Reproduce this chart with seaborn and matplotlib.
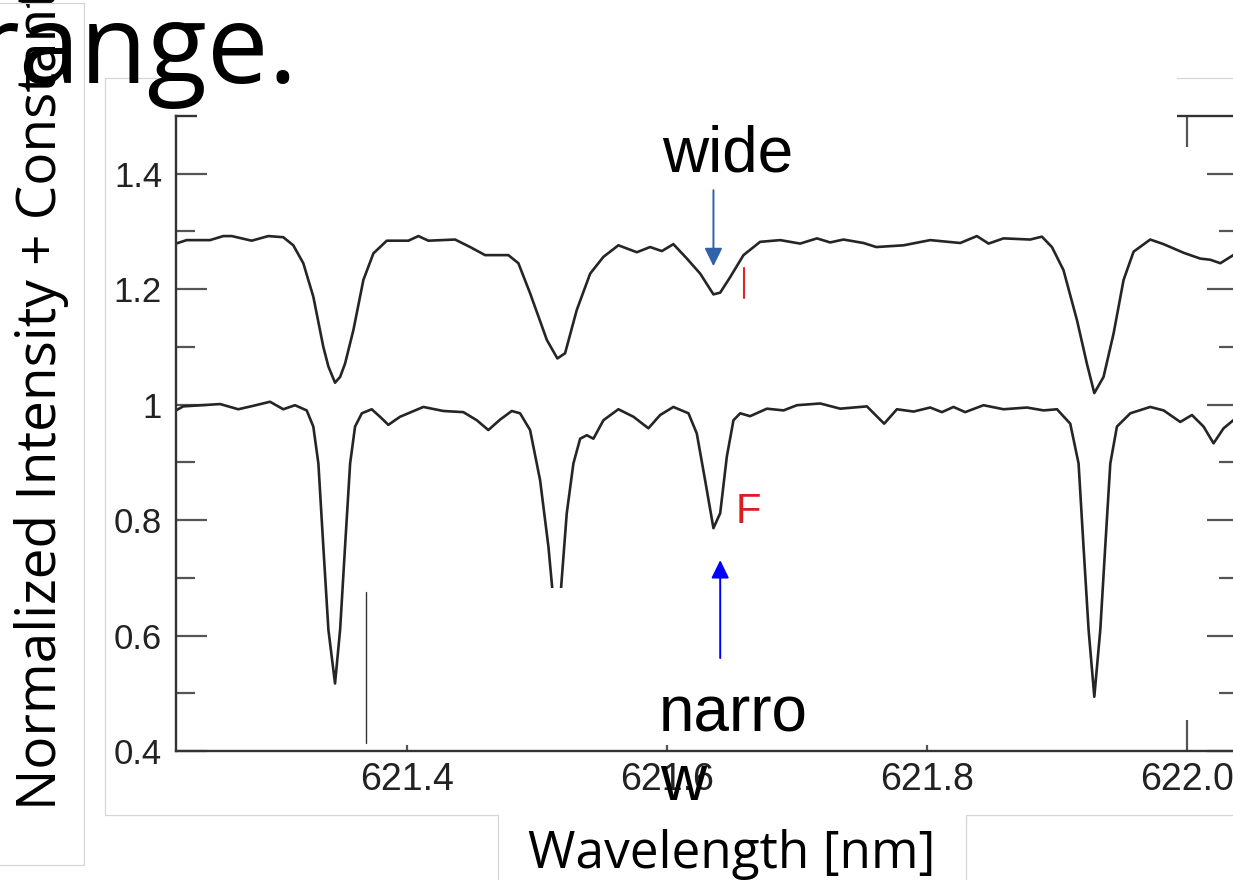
import matplotlib
matplotlib.use("Agg")
import matplotlib.pyplot as plt
import pandas as pd
import seaborn as sns
from matplotlib.lines import Line2D
from matplotlib.patches import Rectangle
from matplotlib.ticker import FixedLocator, FuncFormatter, NullLocator

# Upper spectrum: broadened lines, shifted up by a constant
wl_wide = [621.2223, 621.2305, 621.2485, 621.2587, 621.2652, 621.2805, 621.2933, 621.3048,
           621.3125, 621.3202, 621.3279, 621.3356, 621.3395, 621.3446, 621.3485, 621.3523,
           621.3587, 621.3664, 621.3741, 621.3844, 621.4010, 621.4087, 621.4164, 621.4369,
           621.4485, 621.4600, 621.4779, 621.4856, 621.4946, 621.5075, 621.5156, 621.5215,
           621.5305, 621.5408, 621.5510, 621.5625, 621.5767, 621.5869, 621.5959, 621.6048,
           621.6152, 621.6254, 621.6356, 621.6408, 621.6485, 621.6587, 621.6715, 621.6869,
           621.7023, 621.7152, 621.7254, 621.7356, 621.7510, 621.7608, 621.7818, 621.8023,
           621.8254, 621.8382, 621.8472, 621.8587, 621.8792, 621.8882, 621.8959, 621.9048,
           621.9152, 621.9228, 621.9285, 621.9356, 621.9433, 621.9510, 621.9587, 621.9715,
           621.9818, 621.9972, 622.0100, 622.0177, 622.0254, 622.0354, 622.0392]
flux_wide = [1.279, 1.285, 1.285, 1.292, 1.292, 1.284, 1.292, 1.290,
             1.276, 1.245, 1.187, 1.100, 1.066, 1.038, 1.048, 1.071,
             1.129, 1.216, 1.262, 1.284, 1.284, 1.292, 1.284, 1.286,
             1.273, 1.259, 1.259, 1.245, 1.193, 1.112, 1.080, 1.089,
             1.164, 1.227, 1.256, 1.276, 1.264, 1.273, 1.266, 1.278,
             1.253, 1.227, 1.191, 1.194, 1.221, 1.259, 1.282, 1.285,
             1.279, 1.288, 1.281, 1.286, 1.280, 1.273, 1.276, 1.285,
             1.280, 1.292, 1.279, 1.288, 1.286, 1.291, 1.273, 1.233,
             1.146, 1.071, 1.020, 1.048, 1.123, 1.216, 1.265, 1.286,
             1.278, 1.263, 1.253, 1.251, 1.245, 1.259, 1.264]

# Lower spectrum: narrow lines
wl_narrow = [621.2215, 621.2279, 621.2562, 621.2702, 621.2818, 621.2946, 621.3048, 621.3138,
             621.3228, 621.3279, 621.3318, 621.3356, 621.3395, 621.3446, 621.3485, 621.3523,
             621.3562, 621.3600, 621.3652, 621.3728, 621.3792, 621.3856, 621.3946, 621.4125,
             621.4279, 621.4433, 621.4536, 621.4625, 621.4715, 621.4805, 621.4869, 621.4946,
             621.5023, 621.5087, 621.5125, 621.5150, 621.5177, 621.5228, 621.5279, 621.5331,
             621.5382, 621.5433, 621.5510, 621.5625, 621.5741, 621.5856, 621.5946, 621.6048,
             621.6164, 621.6228, 621.6292, 621.6356, 621.6408, 621.6459, 621.6510, 621.6562,
             621.6638, 621.6767, 621.6895, 621.6998, 621.7177, 621.7331, 621.7536, 621.7669,
             621.7767, 621.7895, 621.8023, 621.8113, 621.8202, 621.8292, 621.8433, 621.8587,
             621.8767, 621.8895, 621.8998, 621.9100, 621.9164, 621.9202, 621.9241, 621.9285,
             621.9331, 621.9369, 621.9408, 621.9459, 621.9562, 621.9715, 621.9818, 621.9946,
             622.0036, 622.0125, 622.0202, 622.0279, 622.0354, 622.0392]
flux_narrow = [0.989, 0.997, 1.001, 0.992, 0.998, 1.005, 0.992, 0.999, 0.990, 0.962, 0.898,
               0.754, 0.610, 0.517, 0.610, 0.754, 0.898, 0.962, 0.985, 0.992, 0.979, 0.965,
               0.979, 0.996, 0.989, 0.987, 0.973, 0.956, 0.974, 0.989, 0.985, 0.956, 0.869,
               0.754, 0.661, 0.600, 0.661, 0.812, 0.898, 0.941, 0.947, 0.941, 0.973, 0.992,
               0.979, 0.959, 0.982, 0.996, 0.985, 0.950, 0.869, 0.786, 0.812, 0.910, 0.973,
               0.985, 0.980, 0.993, 0.990, 0.999, 1.002, 0.993, 0.997, 0.967, 0.992, 0.988,
               0.995, 0.987, 0.996, 0.987, 0.999, 0.992, 0.995, 0.990, 0.992, 0.967, 0.898,
               0.754, 0.610, 0.494, 0.610, 0.754, 0.898, 0.962, 0.985, 0.996, 0.990, 0.970,
               0.982, 0.962, 0.933, 0.959, 0.973, 0.980]

x_ticks = [621.4, 621.6, 621.8, 622.0]
y_ticks = [0.4, 0.6, 0.8, 1.0, 1.2, 1.4]
y_minor_ticks = [0.5, 0.7, 0.9, 1.1, 1.3]
x_range = (621.2223, 622.039)
y_range = (0.4, 1.5)

# annotated line centres (wavelength) and arrow spans (intensity)
wide_line = (621.6356, 1.3714, 1.2398)
narrow_line = (621.6408, 0.561, 0.7307)

W, H = 1233, 880

sns.set_theme(style="ticks")
plt.rcParams["font.family"] = ["Liberation Sans", "DejaVu Sans"]

fig = plt.figure(figsize=(W / 100, H / 100), dpi=100, facecolor="white")


def fx(px):
    return px / W


def fy(py):
    return 1 - py / H


ax = fig.add_axes([fx(176), fy(751), (1238 - 176) / W, (751 - 116) / H])
ax.set_facecolor("white")

spectra = pd.concat([
    pd.DataFrame({"wavelength": wl_wide, "intensity": flux_wide, "profile": "wide"}),
    pd.DataFrame({"wavelength": wl_narrow, "intensity": flux_narrow, "profile": "narrow"}),
], ignore_index=True)

sns.lineplot(data=spectra, x="wavelength", y="intensity", units="profile",
             estimator=None, sort=False, color="#252525", lw=1.9, legend=False, ax=ax,
             solid_joinstyle="round")

ax.set_xlim(*x_range)
ax.set_ylim(*y_range)
ax.xaxis.set_major_locator(FixedLocator(x_ticks))
ax.xaxis.set_minor_locator(NullLocator())
ax.yaxis.set_major_locator(FixedLocator(y_ticks))
ax.yaxis.set_minor_locator(FixedLocator(y_minor_ticks))
ax.xaxis.set_major_formatter(FuncFormatter(lambda v, _: f"{v:.1f}"))
ax.yaxis.set_major_formatter(FuncFormatter(lambda v, _: f"{v:g}"))

for s in ax.spines.values():
    s.set_color("#333333")
    s.set_linewidth(1.7)
    s.set_visible(True)

ax.tick_params(which="both", direction="in", top=True, right=True,
               color="#555555", width=1.6, labelcolor="#222222")
ax.tick_params(which="major", length=22)
ax.tick_params(axis="y", which="minor", length=14)
ax.tick_params(axis="y", which="major", pad=10, labelsize=25)
ax.tick_params(axis="x", which="major", pad=8, labelsize=27)

ax.set_xlabel("Wavelength [nm]", fontsize=37, family="Open Sans", color="black")
ax.xaxis.set_label_coords((732 - 176) / 1062, (751 - 868) / 635)
ax.xaxis.label.set_va("baseline")
ax.xaxis.label.set_ha("center")

ax.set_ylabel("Normalized Intensity + Constant", fontsize=39.5, family="Open Sans",
              color="black", rotation=90, rotation_mode="anchor")
ax.yaxis.set_label_coords((56 - 176) / 1062, (751 - 810) / 635)
ax.yaxis.label.set_ha("left")
ax.yaxis.label.set_va("baseline")


def cover(x0, y0, x1, y1):
    ax.add_patch(Rectangle((fx(x0), fy(y1)), fx(x1) - fx(x0), fy(y0) - fy(y1),
                           transform=fig.transFigure, facecolor="white",
                           edgecolor="none", zorder=2.6, clip_on=False))


# panels laid over the plot
cover(197, 60, 1177, 150)
cover(366, 588, 1065, 745)
ax.add_line(Line2D([fx(366), fx(366)], [fy(592), fy(743)], transform=fig.transFigure,
                   color="#333333", lw=1.0, zorder=2.7, clip_on=False))

# arrows marking the compared line
ax.annotate("", xy=(wide_line[0], wide_line[2]), xytext=(wide_line[0], wide_line[1]),
            arrowprops=dict(arrowstyle="-|>,head_length=0.55,head_width=0.27",
                            mutation_scale=20, color="#2f62a8", lw=1.4,
                            shrinkA=0, shrinkB=0), zorder=4)
ax.annotate("", xy=(narrow_line[0], narrow_line[2]), xytext=(narrow_line[0], narrow_line[1]),
            arrowprops=dict(arrowstyle="-|>,head_length=0.55,head_width=0.27",
                            mutation_scale=20, color="#0000ff", lw=1.4,
                            shrinkA=0, shrinkB=0), zorder=4)

# light frame lines of the surrounding boxes
frame = "#d6d6d6"
for (x0, y0, x1, y1) in [(84, 3, 84, 865), (0, 3, 84, 3), (0, 865, 84, 865),
                         (105, 78, 105, 815), (105, 78, 197, 78), (1177, 78, 1233, 78),
                         (105, 815, 498, 815), (966, 815, 1233, 815),
                         (498, 815, 498, 880), (966, 815, 966, 880)]:
    fig.add_artist(Line2D([fx(x0), fx(x1)], [fy(y0), fy(y1)], color=frame, lw=0.9))

fig.add_artist(Line2D([fx(744), fx(744)], [fy(268), fy(298)], color="#e02424", lw=1.5))
fig.text(fx(736), fy(523), "F", color="#d81e1e", fontsize=30,
         family=["Liberation Sans Narrow", "Liberation Sans"], ha="left", va="baseline")

fig.text(fx(662), fy(172), "wide", fontsize=46, color="black", ha="left", va="baseline")
fig.text(fx(659), fy(731), "narro", fontsize=46, color="black", ha="left", va="baseline")
fig.text(fx(660), fy(800), "w", fontsize=46, color="black", ha="left", va="baseline")

fig.text(fx(298), fy(83), "range.", fontsize=79, family="Open Sans", color="black",
         ha="right", va="baseline", zorder=5)

fig.savefig("out.png", dpi=100, facecolor="white")
